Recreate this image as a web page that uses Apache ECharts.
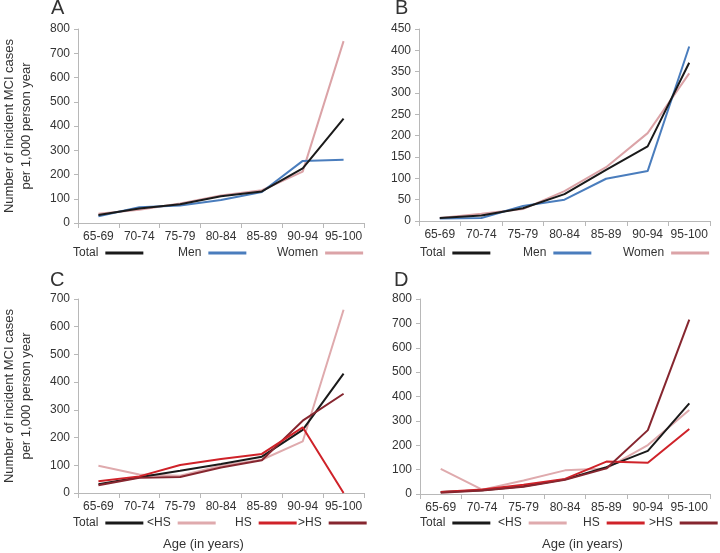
<!DOCTYPE html>
<html>
<head>
<meta charset="utf-8">
<script src="https://cdn.jsdelivr.net/npm/echarts@6/dist/echarts.min.js"></script>
<style>html,body{margin:0;padding:0;background:#fff}#c{width:720px;height:553px}</style>
</head>
<body>
<div id="c"></div>
<script>
var categories = ['65-69','70-74','75-79','80-84','85-89','90-94','95-100'];

// Panel A (sex, all)
var aTotal = [33, 60, 77, 110, 130, 225, 430];
var aMen   = [28, 65, 72, 95, 128, 256, 261];
var aWomen = [38, 55, 80, 113, 135, 212, 750];

// Panel B
var bTotal = [7, 13, 30, 63, 120, 175, 371];
var bMen   = [6, 7, 35, 50, 99, 117, 409];
var bWomen = [7, 17, 28, 70, 126, 206, 346];

// Panel C (education)
var cTotal = [32, 57, 80, 105, 131, 228, 431];
var cLtHS  = [98, 67, 62, 98, 120, 186, 661];
var cHS    = [42, 60, 101, 123, 141, 237, 0];
var cGtHS  = [28, 55, 58, 92, 118, 261, 358];

// Panel D
var dTotal = [8, 15, 32, 60, 110, 177, 372];
var dLtHS  = [103, 18, 55, 97, 105, 201, 345];
var dHS    = [8, 18, 38, 62, 133, 128, 267];
var dGtHS  = [5, 14, 30, 58, 105, 262, 715];

var yTicksA = {min:0, max:800, interval:100};
var yTicksB = {min:0, max:450, interval:50};
var yTicksC = {min:0, max:700, interval:100};
var yTicksD = {min:0, max:800, interval:100};

var COL = {Total:'#1a1a1a', Men:'#4a7dbd', Women:'#dba3a7', '<HS':'#dfaaad', 'HS':'#cf2229', '>HS':'#86262f'};

var grids = [
  {left:73, top:29, width:291, height:194},
  {left:419, top:29, width:291, height:192},
  {left:73, top:299, width:291, height:194},
  {left:420, top:299, width:290, height:195}
];
var yCfg = [yTicksA, yTicksB, yTicksC, yTicksD];
var yName = 'Number of incident MCI cases\nper 1,000 person year';

var xAxes = grids.map(function(g,i){
  return {type:'category', gridIndex:i, data:categories, boundaryGap:true,
    axisLine:{lineStyle:{color:'#b8b8b8', width:1}},
    axisTick:{show:true, length:5, lineStyle:{color:'#b8b8b8'}},
    axisLabel:{color:'#333', fontSize:12, fontFamily:'Liberation Sans, Arial', margin:8, interval:0}
  };
});
var yAxes = yCfg.map(function(c,i){
  return {type:'value', gridIndex:i, min:c.min, max:c.max, interval:c.interval,
    name:(i===0||i===2)?yName:'', nameLocation:'middle', nameRotate:90, nameGap:43,
    nameTextStyle:{color:'#333', fontSize:13, fontFamily:'Liberation Sans, Arial', lineHeight:17},
    axisLine:{show:true, lineStyle:{color:'#b8b8b8'}},
    axisTick:{show:true, length:4, lineStyle:{color:'#b8b8b8'}},
    splitLine:{show:false},
    axisLabel:{color:'#333', fontSize:12, fontFamily:'Liberation Sans, Arial', margin:8}
  };
});

function ser(name, data, gi){
  return {type:'line', name:name, data:data, xAxisIndex:gi, yAxisIndex:gi,
    symbol:'none', lineStyle:{color:COL[name], width:2}, itemStyle:{color:COL[name]},
    emphasis:{disabled:true}, animation:false};
}
var series = [
  ser('Women', aWomen, 0), ser('Men', aMen, 0), ser('Total', aTotal, 0),
  ser('Women', bWomen, 1), ser('Men', bMen, 1), ser('Total', bTotal, 1),
  ser('<HS', cLtHS, 2), ser('Total', cTotal, 2), ser('>HS', cGtHS, 2), ser('HS', cHS, 2),
  ser('<HS', dLtHS, 3), ser('Total', dTotal, 3), ser('HS', dHS, 3), ser('>HS', dGtHS, 3)
];

function leg(name, left, top){
  return {data:[name], left:left, top:top, align:'right', icon:'rect', itemWidth:38, itemHeight:3,
    padding:0, selectedMode:false,
    textStyle:{color:'#333', fontSize:12, fontFamily:'Liberation Sans, Arial', padding:[0,2,0,0]}};
}
var legends = [
  leg('Total',73,247), leg('Men',178,247), leg('Women',277,247),
  leg('Total',420,247), leg('Men',523,247), leg('Women',623,247),
  leg('Total',73,517), leg('<HS',147,517), leg('HS',235,517), leg('>HS',298,517),
  leg('Total',420,517), leg('<HS',498,517), leg('HS',583,517), leg('>HS',649,517)
];

function txt(s, x, y, size){
  return {type:'text', left:x, top:y, style:{text:s, fill:'#333', font: size+'px "Liberation Sans", Arial'}};
}

var chart = echarts.init(document.getElementById('c'), null, {renderer:'canvas'});
chart.setOption({
  animation:false,
  backgroundColor:'#fff',
  grid:grids,
  xAxis:xAxes,
  yAxis:yAxes,
  legend:legends,
  series:series,
  graphic:[
    txt('A', 51, -2, 20), txt('B', 395, -2, 20), txt('C', 50, 270, 20), txt('D', 394, 270, 20),
    txt('Age (in years)', 163, 538, 13), txt('Age (in years)', 542, 538, 13)
  ]
});
</script>
</body>
</html>
